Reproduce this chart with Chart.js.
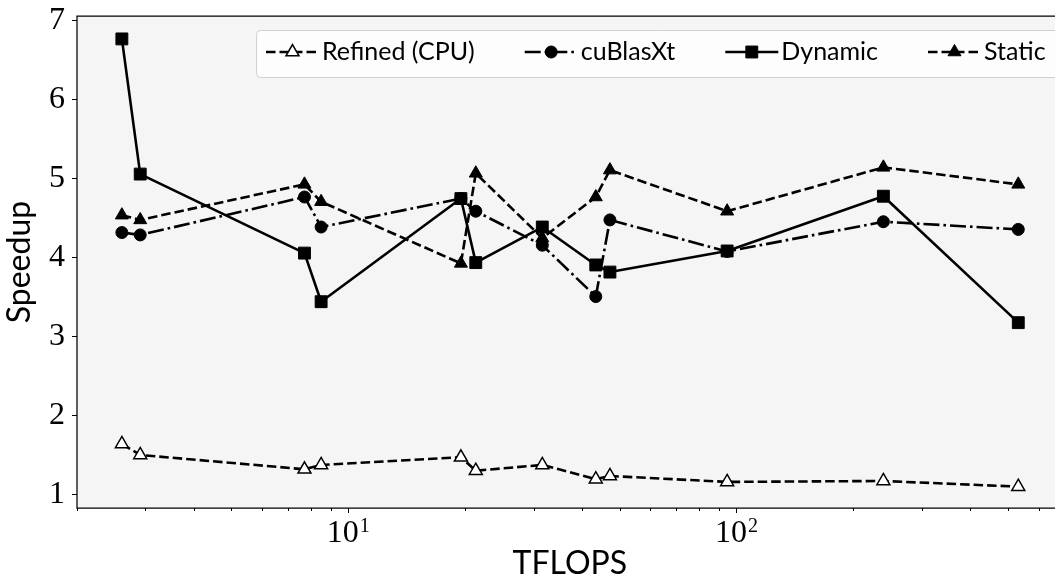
<!DOCTYPE html>
<html>
<head>
<meta charset="utf-8">
<script src="https://cdn.jsdelivr.net/npm/chart.js@4.4.1/dist/chart.umd.min.js"></script>
<style>
  html, body { margin: 0; padding: 0; background: #fff; overflow: hidden; }
  #wrap { width: 1072px; height: 576px; }
</style>
</head>
<body>
<div id="wrap"><canvas id="speedupChart" width="1072" height="576"></canvas></div>
<script>
// problem size (TFLOPS) shared by every series
const tflops = [2.61, 2.91, 7.71, 8.51, 19.5, 21.3, 31.6, 43.4, 47.2, 94.6, 239, 532];

// speedup per scheduler
const refinedCpu   = [1.645, 1.506, 1.325, 1.38, 1.477, 1.307, 1.38, 1.20, 1.24, 1.165, 1.177, 1.105];
const cublasXt     = [4.32, 4.29, 4.77, 4.39, 4.75, 4.59, 4.16, 3.51, 4.48, 4.08, 4.457, 4.36];
const dynamicSched = [6.77, 5.06, 4.06, 3.445, 4.75, 3.94, 4.39, 3.91, 3.82, 4.087, 4.78, 3.18];
const staticSched  = [4.54, 4.48, 4.93, 4.71, 3.93, 5.07, 4.25, 4.77, 5.11, 4.59, 5.145, 4.93];

const seriesNames = ['Refined (CPU)', 'cuBlasXt', 'Dynamic', 'Static'];

const yTicks = [1, 2, 3, 4, 5, 6, 7];
const xDecades = [1, 10, 100];      // minor ticks at 2..9 of each decade
const xLabelExps = [1, 2];          // labelled as 10^1, 10^2

const SERIF = '"Liberation Serif", serif';
const SANS = 'Lato, "Open Sans", sans-serif';
const LW = 2.6;
const DASH = [9.5, 4];
const DASH_DOT = [16, 4, 2.6, 4];

const toPoints = ys => tflops.map((x, i) => ({ x, y: ys[i] }));

function drawMarker(ctx, ds, x, y) {
  const r = ds.pointRadius;
  ctx.save();
  ctx.setLineDash([]);
  ctx.fillStyle = ds.pointBackgroundColor;
  ctx.strokeStyle = ds.pointBorderColor;
  ctx.lineWidth = ds.pointBorderWidth;
  ctx.beginPath();
  if (ds.pointStyle === 'circle') {
    ctx.arc(x, y, r, 0, Math.PI * 2);
  } else if (ds.pointStyle === 'rect') {
    const s = Math.SQRT1_2 * r;
    ctx.rect(x - s, y - s, 2 * s, 2 * s);
  } else {
    ctx.moveTo(x, y - r);
    ctx.lineTo(x + r * Math.sin(Math.PI / 3), y + r / 2);
    ctx.lineTo(x - r * Math.sin(Math.PI / 3), y + r / 2);
    ctx.closePath();
  }
  ctx.fill();
  ctx.stroke();
  ctx.restore();
}

// grey plot background, spines, log ticks and 10^n labels
const axisFrame = {
  id: 'axisFrame',
  beforeDraw(chart) {
    const { ctx, chartArea: a } = chart;
    ctx.save();
    ctx.fillStyle = '#f5f5f5';
    ctx.fillRect(a.left, a.top, a.right - a.left, a.bottom - a.top);
    ctx.restore();
  },
  afterDatasetsDraw(chart) {
    const { ctx, chartArea: a } = chart;
    const x = chart.scales.x;
    ctx.save();
    ctx.strokeStyle = '#000';
    ctx.lineWidth = 1.25;
    ctx.beginPath();
    ctx.moveTo(a.left, a.top); ctx.lineTo(a.right, a.top);
    ctx.lineTo(a.right, a.bottom); ctx.lineTo(a.left, a.bottom);
    ctx.closePath();
    ctx.stroke();

    ctx.beginPath();
    x.ticks.forEach(t => {
      const px = Math.round(x.getPixelForValue(t.value)) + 0.5;
      const major = Number.isInteger(Math.log10(t.value));
      ctx.moveTo(px, a.bottom);
      ctx.lineTo(px, a.bottom + (major ? 5 : 3));
    });
    ctx.lineWidth = 1;
    ctx.stroke();

    ctx.fillStyle = '#000';
    ctx.textBaseline = 'alphabetic';
    ctx.textAlign = 'left';
    xLabelExps.forEach(e => {
      const px = x.getPixelForValue(Math.pow(10, e));
      ctx.font = '32px ' + SERIF;
      const wBase = ctx.measureText('10').width;
      ctx.font = '20px ' + SERIF;
      const wExp = ctx.measureText(String(e)).width;
      const x0 = px - (wBase + wExp + 1) / 2;
      ctx.font = '32px ' + SERIF;
      ctx.fillText('10', x0, 542);
      ctx.font = '20px ' + SERIF;
      ctx.fillText(String(e), x0 + wBase + 1, 532);
    });
    ctx.restore();
  }
};

// legend box with line + marker handles in one row
const lineLegend = {
  id: 'lineLegend',
  afterDraw(chart) {
    const ctx = chart.ctx;
    const datasets = seriesNames.map(n => chart.data.datasets.find(d => d.label === n));
    ctx.save();
    ctx.beginPath();
    ctx.roundRect(256.5, 30.5, 810, 47, 4);
    ctx.fillStyle = 'rgba(255,255,255,0.8)';
    ctx.fill();
    ctx.strokeStyle = '#d0d0d0';
    ctx.lineWidth = 1;
    ctx.stroke();

    ctx.font = '25px ' + SANS;
    ctx.textBaseline = 'alphabetic';
    ctx.textAlign = 'left';
    const cy = 52;
    let x = 266;
    datasets.forEach(ds => {
      ctx.beginPath();
      ctx.setLineDash(ds.borderDash || []);
      ctx.strokeStyle = '#000';
      ctx.lineWidth = LW;
      ctx.moveTo(x, cy);
      ctx.lineTo(x + 53, cy);
      ctx.stroke();
      drawMarker(ctx, ds, x + 26.5, cy);
      ctx.fillStyle = '#000';
      ctx.fillText(ds.label, x + 56, 60);
      x += 56 + ctx.measureText(ds.label).width + 50;
    });
    ctx.restore();
  }
};

const common = {
  borderColor: '#000',
  borderWidth: LW,
  borderJoinStyle: 'round',
  pointBorderColor: '#000',
  tension: 0,
  fill: false
};

new Chart(document.getElementById('speedupChart'), {
  type: 'line',
  data: {
    datasets: [
      { ...common, label: seriesNames[0], data: toPoints(refinedCpu), order: 4,
        borderDash: DASH, pointStyle: 'triangle', pointRadius: 7.5,
        pointBackgroundColor: '#fff', pointBorderWidth: 1.5 },
      { ...common, label: seriesNames[1], data: toPoints(cublasXt), order: 3,
        borderDash: DASH_DOT, pointStyle: 'circle', pointRadius: 6,
        pointBackgroundColor: '#000', pointBorderWidth: 1 },
      { ...common, label: seriesNames[2], data: toPoints(dynamicSched), order: 2,
        borderDash: [], pointStyle: 'rect', pointRadius: 8.4,
        pointBackgroundColor: '#000', pointBorderWidth: 1 },
      { ...common, label: seriesNames[3], data: toPoints(staticSched), order: 1,
        borderDash: DASH, pointStyle: 'triangle', pointRadius: 7.5,
        pointBackgroundColor: '#000', pointBorderWidth: 1 }
    ]
  },
  options: {
    responsive: false,
    animation: false,
    layout: { padding: { top: 16, right: -2, left: 0, bottom: 0 } },
    plugins: {
      legend: { display: false },
      tooltip: { enabled: false }
    },
    scales: {
      x: {
        type: 'logarithmic',
        min: 2.0,
        max: 692,
        grid: { display: false },
        border: { display: false },
        ticks: { display: false },
        afterBuildTicks: scale => {
          const ticks = [];
          xDecades.forEach(d => {
            for (let k = 1; k <= 9; k++) {
              const v = k * d;
              if (v >= scale.min && v <= scale.max) ticks.push({ value: v });
            }
          });
          scale.ticks = ticks;
        },
        afterFit: scale => {
          scale.height = 68;
          scale.paddingLeft = scale.paddingRight = 0;
        },
        title: {
          display: true,
          text: 'TFLOPS',
          color: '#000',
          font: { family: SANS, size: 32, lineHeight: 1 },
          padding: { top: 0, bottom: -4 }
        }
      },
      y: {
        min: 0.835,
        max: 7.06,
        afterBuildTicks: scale => { scale.ticks = yTicks.map(v => ({ value: v })); },
        afterFit: scale => {
          scale.width = 77;
          scale.paddingTop = scale.paddingBottom = 0;
        },
        grid: { drawOnChartArea: false, tickLength: 5, color: '#000', tickWidth: 1 },
        border: { display: false },
        ticks: { padding: 7, color: '#000', font: { family: SERIF, size: 32 } },
        title: {
          display: true,
          text: 'Speedup',
          color: '#000',
          font: { family: SANS, size: 32, lineHeight: 1 },
          padding: { top: 4, bottom: 0 }
        }
      }
    }
  },
  plugins: [axisFrame, lineLegend]
});
</script>
</body>
</html>
